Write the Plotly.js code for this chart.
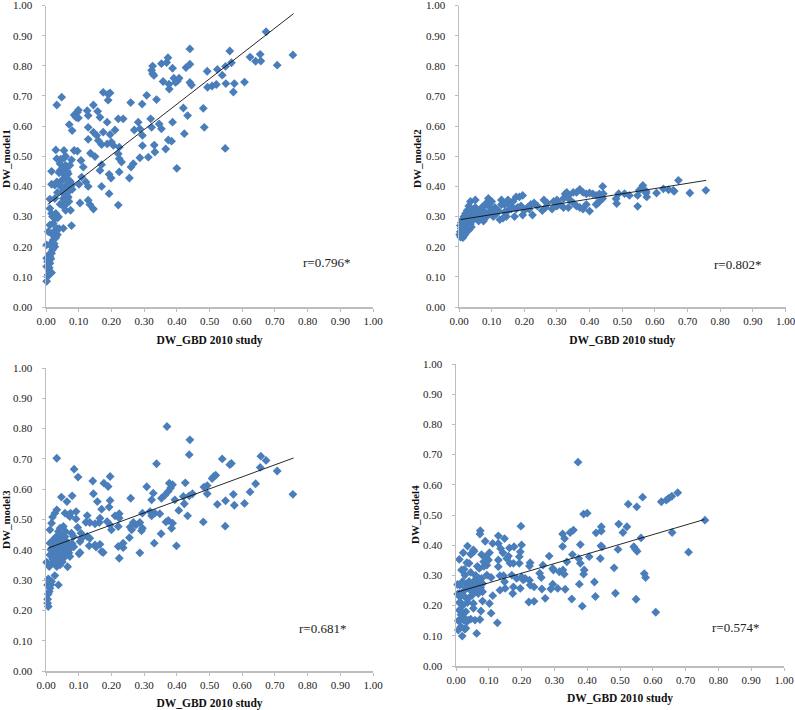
<!DOCTYPE html>
<html><head><meta charset="utf-8">
<script src="https://cdn.plot.ly/plotly-3.0.1.min.js"></script>
<style>html,body{margin:0;padding:0;background:#fff}#c{width:795px;height:710px}</style>
</head><body><div id="c"></div>
<script>
const model1 = [[.673,.913],[.755,.836],[.707,.802],[.655,.838],[.657,.816],[.641,.815],[.624,.829],[.562,.849],[.567,.81],[.549,.798],[.539,.769],[.524,.788],[.493,.782],[.607,.746],[.576,.741],[.55,.741],[.573,.713],[.521,.738],[.508,.733],[.494,.729],[.481,.659],[.484,.596],[.548,.526],
[.44,.856],[.44,.805],[.428,.794],[.44,.745],[.445,.736],[.433,.635],[.42,.66],[.423,.575],[.4,.46],[.387,.613],[.384,.55],[.374,.554],[.366,.524],[.373,.827],[.353,.807],[.369,.811],[.387,.792],[.376,.739],[.377,.723],[.358,.748],[.391,.759],[.402,.75],[.407,.759],[.396,.745],[.338,.688],[.308,.702],[.294,.673],[.259,.678],[.326,.799],[.323,.785],[.326,.774],[.33,.768],[.32,.624],[.323,.596],[.346,.607],[.353,.591],[.282,.613],[.287,.591],[.27,.587],[.295,.569],[.295,.535],[.287,.495],[.313,.497],[.331,.537],[.333,.514],[.267,.475],[.26,.464],[.255,.428],[.224,.448],[.221,.624],[.236,.624],[.211,.587],[.196,.572],[.187,.613],[.175,.712],[.19,.706],[.196,.71],[.19,.686],[.145,.67],[.158,.649],[.165,.629],[.126,.651],[.129,.635],[.129,.596],[.129,.556],[.145,.58],[.155,.569],[.16,.552],[.175,.58],[.17,.539],[.187,.541],[.2,.547],[.206,.536],[.224,.53],[.221,.508],[.224,.492],[.231,.481],[.136,.51],[.15,.499],[.165,.453],[.17,.472],[.17,.4],[.193,.44],[.199,.428],[.193,.376],[.221,.338],[.129,.354],[.134,.34],[.145,.325],[.104,.345],[.129,.4],[.122,.415],[.109,.431],[.101,.407],[.114,.464],[.107,.486],[.096,.517],[.086,.519],[.08,.585],[.071,.605],[.033,.67],[.048,.696],[.099,.653],[.096,.646],[.086,.637],[.092,.629],[.099,.627],
[.03,.521],[.055,.519],[.033,.492],[.055,.494],[.017,.45],[.043,.475],[.078,.488],[.043,.453],[.063,.464],[.073,.47],[.053,.442],[.058,.426],[.068,.442],[.071,.42],[.017,.407],[.033,.415],[.027,.404],[.048,.42],[.063,.404],[.078,.404],[.073,.387],[.058,.376],[.068,.365],[.053,.36],[.063,.343],[.053,.334],[.043,.341],[.027,.36],[.012,.358],[.06,.321],[.075,.321],[.078,.27],[.053,.261],[.012,.327],[.017,.31],[.038,.299],[.027,.294],[.022,.277],[.033,.261],[.012,.272],[.007,.25],[.017,.244],[.027,.233],[.022,.222],[.012,.206],[.027,.2],[.002,.206],[.017,.178],[.012,.167],[.002,.162],[.012,.145],[.002,.134],[.017,.114],[.007,.107],[.002,.085],[.005,.101],
[.01,.13],[.005,.15],[.01,.175],[.015,.16],[.02,.24],[.025,.25],[.03,.23],[.035,.24],[.04,.26],[.015,.21],[.025,.21],[.02,.19],[.01,.12],[.02,.3],[.03,.31],[.035,.295],[.04,.41],[.05,.42],[.06,.43],[.065,.45],[.05,.46],[.06,.47],[.07,.4],[.08,.39],[.075,.415],[.06,.39],[.05,.38],[.045,.4],[.035,.38],[.065,.36],[.07,.35],[.055,.345],[.04,.445],[.045,.49],[.06,.5]];

const model2 = [[.672,.42],[.756,.387],[.707,.378],[.656,.387],[.659,.384],[.642,.389],[.626,.392],[.605,.378],[.573,.378],[.575,.365],[.573,.384],[.563,.403],[.557,.392],[.552,.387],[.547,.37],[.547,.334],[.522,.37],[.507,.376],[.489,.376],[.481,.359],[.483,.343],
[.44,.4],[.442,.376],[.43,.375],[.42,.37],[.44,.36],[.43,.35],[.42,.34],[.425,.345],[.4,.318],[.39,.34],[.38,.325],[.37,.33],[.37,.39],[.38,.38],[.36,.38],[.35,.38],[.39,.375],[.4,.378],[.41,.375],[.33,.38],[.325,.375],[.335,.37],[.32,.36],[.34,.355],[.3,.355],[.31,.34],[.32,.33],[.335,.33],[.35,.345],[.36,.335],[.29,.35],[.285,.325],[.3,.335],[.26,.355],[.265,.33],[.255,.32],[.27,.345],[.24,.335],[.23,.345],[.22,.34],[.225,.305],[.2,.32],[.195,.305],[.195,.37],[.185,.365],[.175,.365],[.18,.33],[.17,.3],[.16,.325],[.165,.35],[.15,.355],[.155,.34],[.14,.34],[.145,.3],[.13,.355],[.125,.29],[.13,.34],[.135,.295],[.105,.3],[.1,.35],[.09,.36],[.085,.345],[.08,.34],[.075,.285],[.06,.285],[.05,.355],[.035,.35],[.045,.31],
[.21,.33],[.215,.325],[.19,.335],[.175,.325],[.16,.335],[.15,.32],[.14,.315],[.12,.32],[.115,.31],[.11,.33],[.1,.32],[.095,.33],[.09,.31],[.085,.3],[.08,.315],[.075,.3],[.07,.33],[.07,.295],[.065,.31],[.06,.305],[.055,.32],[.055,.295],[.05,.3],[.05,.33],[.045,.295],[.04,.32],[.04,.3],[.04,.285],[.035,.31],[.035,.29],[.035,.275],[.03,.335],[.03,.3],[.03,.285],[.03,.27],[.025,.32],[.025,.295],[.025,.275],[.025,.26],[.02,.31],[.02,.285],[.02,.27],[.02,.255],[.015,.3],[.015,.28],[.015,.265],[.015,.25],[.01,.29],[.01,.27],[.01,.255],[.01,.24],[.007,.28],[.007,.26],[.007,.245],[.005,.232],[.004,.27],[.004,.25],[.002,.24],[.012,.23],[.018,.24],[.03,.255],[.038,.265]];

const model3 = [[.755,.583],[.707,.66],[.673,.695],[.657,.709],[.655,.672],[.641,.618],[.624,.591],[.607,.553],[.576,.547],[.573,.583],[.549,.562],[.524,.55],[.567,.685],[.562,.681],[.539,.7],[.519,.646],[.513,.642],[.508,.635],[.493,.612],[.483,.607],[.493,.585],[.481,.492],[.548,.478],
[.37,.807],[.44,.763],[.438,.714],[.338,.684],[.308,.608],[.426,.621],[.448,.585],[.438,.578],[.42,.576],[.423,.552],[.433,.512],[.406,.53],[.399,.413],[.394,.565],[.377,.62],[.387,.615],[.381,.604],[.374,.593],[.364,.581],[.353,.57],[.328,.587],[.323,.565],[.259,.57],[.331,.422],[.352,.453],[.367,.492],[.374,.497],[.387,.488],[.384,.471],[.348,.519],[.323,.512],[.333,.521],[.318,.526],[.295,.521],[.287,.49],[.275,.482],[.295,.471],[.292,.463],[.267,.49],[.257,.475],[.262,.466],[.255,.44],[.287,.39],[.224,.519],[.224,.505],[.221,.477],[.211,.512],[.196,.642],[.177,.62],[.19,.609],[.196,.563],[.193,.541],[.17,.534],[.157,.559],[.145,.585],[.143,.627],[.2,.466],[.196,.482],[.187,.493],[.165,.504],[.163,.49],[.15,.486],[.126,.513],[.134,.49],[.122,.491],[.134,.438],[.126,.444],[.132,.413],[.15,.416],[.165,.418],[.17,.394],[.175,.391],[.153,.409],[.221,.411],[.236,.422],[.224,.372],[.236,.407],[.109,.438],[.101,.387],[.097,.474],[.107,.455],[.104,.427],[.092,.526],[.092,.502],[.086,.666],[.098,.64],[.08,.578],[.047,.574],[.064,.559],[.033,.702],[.038,.284],[.066,.344],[.027,.315],[.033,.532],[.027,.521],[.02,.508],[.017,.488],[.012,.466],[.058,.521],[.068,.515],[.075,.521],[.073,.51],[.053,.477],[.043,.471],[.043,.455],[.033,.444],[.012,.422],[.078,.455],[.084,.444],[.058,.444],[.038,.422],[.063,.427],[.068,.411],[.075,.405],[.053,.411],[.048,.394],[.022,.394],[.012,.383],[.002,.359],[.017,.356],[.027,.367],[.038,.372],[.058,.378],[.073,.378],[.104,.391],[.01,.345],[.033,.345],[.007,.304],[.017,.295],[.005,.284],[.012,.273],[.007,.254],[.01,.262],[.005,.237],[.005,.224],[.007,.213],
[.025,.41],[.03,.395],[.04,.41],[.045,.43],[.05,.445],[.06,.46],[.065,.395],[.07,.39],[.08,.42],[.085,.41],[.02,.37],[.03,.355],[.04,.385],[.05,.37],[.06,.4],[.015,.4],[.025,.38],[.02,.43],[.028,.44],[.038,.46],[.055,.39],[.05,.36],[.043,.35],[.015,.285],[.01,.3]];

const model4 = [[.676,.574],[.658,.562],[.649,.556],[.641,.549],[.626,.544],[.569,.559],[.551,.527],[.525,.536],[.759,.483],[.659,.442],[.564,.424],[.521,.461],[.509,.442],[.496,.47],[.494,.386],[.542,.395],[.547,.387],[.552,.38],[.709,.377],[.482,.325],[.574,.306],[.578,.293],[.486,.241],[.549,.221],[.609,.178],[.443,.461],[.443,.447],[.445,.395],[.44,.356],
[.372,.675],[.389,.503],[.4,.506],[.427,.441],[.442,.398],[.379,.402],[.358,.45],[.348,.442],[.355,.369],[.325,.437],[.331,.422],[.325,.396],[.284,.364],[.198,.463],[.2,.401],[.295,.323],[.297,.318],[.265,.334],[.255,.307],[.26,.293],[.262,.255],[.272,.224],[.238,.214],[.222,.212],[.295,.271],[.289,.255],[.31,.257],[.333,.254],[.315,.312],[.33,.304],[.326,.318],[.338,.345],[.374,.356],[.379,.34],[.391,.318],[.389,.304],[.376,.271],[.353,.222],[.385,.198],[.406,.362],[.422,.278],[.425,.23],[.226,.342],[.224,.331],[.196,.378],[.193,.362],[.193,.34],[.177,.395],[.163,.391],[.16,.364],[.165,.34],[.155,.356],[.175,.34],[.129,.431],[.148,.422],[.129,.406],[.112,.406],[.136,.389],[.143,.375],[.129,.351],[.129,.329],[.134,.299],[.145,.299],[.148,.279],[.134,.251],[.15,.257],[.173,.24],[.175,.262],[.196,.257],[.2,.295],[.211,.29],[.224,.284],[.226,.268],[.238,.262],[.185,.29],[.205,.285],[.17,.301],[.126,.143],[.107,.175],[.112,.233],[.102,.207],[.107,.293],[.094,.301],[.074,.448],[.073,.437],[.089,.413],[.102,.375],[.099,.351],[.078,.369],[.094,.334],[.084,.345],[.071,.323],[.035,.397],[.053,.384],[.048,.373],[.022,.375],[.01,.353],[.033,.342],[.017,.318],[.027,.301],[.063,.295],[.081,.273],[.081,.246],[.081,.215],[.076,.182],[.073,.154],[.058,.152],[.063,.108],[.019,.099],[.027,.122],[.007,.119],[.038,.152],[.012,.152],[.017,.18],[.053,.191],[.053,.207],[.068,.24],[.058,.251],[.043,.262],[.033,.273],[.012,.268],[.005,.238],[.012,.229],[.027,.229],[.038,.224],[.017,.207],[.01,.185],[.022,.163],[.033,.147],[.068,.279],[.053,.279],[.078,.29],[.063,.262],
[.005,.27],[.01,.21],[.02,.28],[.025,.25],[.03,.26],[.04,.28],[.045,.25],[.05,.235],[.06,.27],[.07,.29],[.075,.26],[.085,.33],[.09,.36],[.065,.33],[.055,.38],[.045,.37],[.04,.34],[.025,.32],[.02,.2],[.015,.17],[.025,.15],[.03,.18],[.035,.21],[.01,.24],[.007,.15],[.015,.13],[.045,.155],[.03,.125],[.06,.3],[.045,.31]];

const fits = {m1:[.34,.973], m2:[.29,.42], m3:[.405,.703], m4:[.245,.485]};
const fitX = [.005,.757];
const tickVals = [0,.1,.2,.3,.4,.5,.6,.7,.8,.9,1];
const tickText = ["0.00","0.10","0.20","0.30","0.40","0.50","0.60","0.70","0.80","0.90","1.00"];
const yTitles = ["DW_model1","DW_model2","DW_model3","DW_model4"];
const rTexts = ["r=0.796*","r=0.802*","r=0.681*","r=0.574*"];
const xTitle = "DW_GBD 2010 study";

const W=795,H=710;
const boxes=[[46,373,5.5,307],[459,785.5,5.5,307],[46,373,368,671],[456,784,364,666]];
const rPos=[[.859,.148],[.852,.141],[.846,.139],[.853,.129]];
const xStandoff=[10,10,14,9];
const yTitlePx=[[6,159],[417,159],[6,520],[415,515]];
const sets=[model1,model2,model3,model4], fitSets=[fits.m1,fits.m2,fits.m3,fits.m4];
const serif='"Liberation Serif","Times New Roman",serif';
const data=[], layout={width:W,height:H,margin:{l:0,r:0,t:0,b:0},paper_bgcolor:'#fff',plot_bgcolor:'#fff',showlegend:false,font:{family:serif,size:11,color:'#222'},annotations:[]};
boxes.forEach((b,i)=>{
  const s=i?String(i+1):'';
  data.push({type:'scatter',mode:'markers',xaxis:'x'+s,yaxis:'y'+s,x:sets[i].map(p=>p[0]),y:sets[i].map(p=>p[1]),
    marker:{symbol:'diamond',size:6.8,color:'#4a7ebb',line:{width:0}},cliponaxis:false});
  data.push({type:'scatter',mode:'lines',xaxis:'x'+s,yaxis:'y'+s,x:fitX,y:fitSets[i],line:{color:'#111',width:0.9},cliponaxis:false});
  const ax={range:[0,1],tickmode:'array',tickvals:tickVals,ticktext:tickText,showgrid:false,zeroline:false,
    showline:true,linecolor:'#bdbdbd',linewidth:1.5,ticks:'outside',ticklen:3,tickcolor:'#bdbdbd',tickwidth:1,
    tickfont:{family:serif,size:11,color:'#222'},automargin:false,ticklabeloverflow:'allow'};
  layout['xaxis'+s]=Object.assign({},ax,{domain:[b[0]/W,b[1]/W],anchor:'y'+s,
    title:{text:xTitle,font:{family:serif,size:11.5,color:'#111',weight:'bold'},standoff:xStandoff[i]}});
  layout['yaxis'+s]=Object.assign({},ax,{domain:[1-b[3]/H,1-b[2]/H],anchor:'x'+s,ticklabelstandoff:7});
  layout.annotations.push({xref:'x'+s,yref:'y'+s,x:rPos[i][0],y:rPos[i][1],text:rTexts[i],showarrow:false,font:{family:serif,size:13,color:'#222'}});
  layout.annotations.push({xref:'paper',yref:'paper',x:yTitlePx[i][0]/W,y:1-yTitlePx[i][1]/H,xanchor:'center',yanchor:'middle',textangle:-90,text:'<b>'+yTitles[i]+'</b>',showarrow:false,font:{family:serif,size:11,color:'#111'}});
});
Plotly.newPlot('c',data,layout,{displayModeBar:false,staticPlot:true});
</script></body></html>
